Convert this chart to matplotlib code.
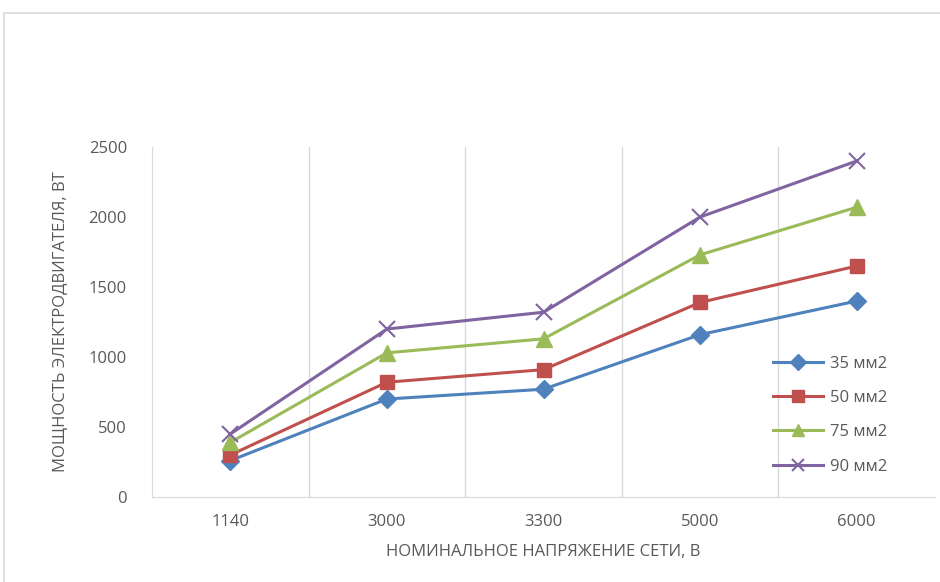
import matplotlib
matplotlib.use("Agg")
from matplotlib import pyplot as plt
from matplotlib.patches import Rectangle

plt.rcParams['font.family'] = ['Open Sans', 'DejaVu Sans']

# Data
voltages = ["1140", "3000", "3300", "5000", "6000"]
s35 = [260, 700, 770, 1160, 1400]
s50 = [300, 820, 910, 1390, 1650]
s75 = [390, 1030, 1130, 1730, 2070]
s90 = [450, 1200, 1320, 2000, 2400]
series_names = ["35 мм2", "50 мм2", "75 мм2", "90 мм2"]

fig = plt.figure(figsize=(9.4, 5.82), dpi=100)
ax = fig.add_axes([0.1617, 0.146, 0.8330, 0.6014])

x = list(range(len(voltages)))
ax.plot(x, s35, color="#4F81BD", lw=2.2, marker="D", ms=9, label=series_names[0])
ax.plot(x, s50, color="#C0504D", lw=2.2, marker="s", ms=10, label=series_names[1])
ax.plot(x, s75, color="#9BBB59", lw=2.2, marker="^", ms=11, label=series_names[2])
ax.plot(x, s90, color="#8064A2", lw=2.2, marker="x", ms=11, mew=1.5, label=series_names[3])

ax.set_xlim(-0.5, len(voltages) - 0.5)
ax.set_ylim(0, 2500)
ax.set_yticks([0, 500, 1000, 1500, 2000, 2500])
ax.set_xticks(x)
ax.set_xticklabels(voltages)
ax.set_xticks([i + 0.5 for i in x[:-1]], minor=True)
ax.grid(True, which="minor", axis="x", color="#D9D9D9", lw=1)
ax.tick_params(which="both", length=0, colors="#595959", labelsize=12)
ax.tick_params(axis="x", pad=12)
ax.tick_params(axis="y", pad=18)

for side in ["top", "right"]:
    ax.spines[side].set_visible(False)
ax.spines["bottom"].set_color("#D9D9D9")
ax.spines["left"].set_color("#D9D9D9")

ax.set_xlabel("НОМИНАЛЬНОЕ НАПРЯЖЕНИЕ СЕТИ, В", color="#595959", fontsize=12, labelpad=10)
ax.set_ylabel("МОЩНОСТЬ ЭЛЕКТРОДВИГАТЕЛЯ, ВТ", color="#595959", fontsize=12, labelpad=14)

leg = ax.legend(loc="center left", bbox_to_anchor=(0.774, 0.234), frameon=False,
                fontsize=12, labelcolor="#595959", handlelength=3.0,
                labelspacing=1.1, handletextpad=0.4, markerscale=0.85)

# chart area border
fig.patches.append(Rectangle((4 / 940, -0.01), 1.0, 1 - 13 / 582 + 0.01,
                             transform=fig.transFigure, fill=False,
                             edgecolor="#D9D9D9", lw=1.2))

fig.savefig("out.png", dpi=100)
